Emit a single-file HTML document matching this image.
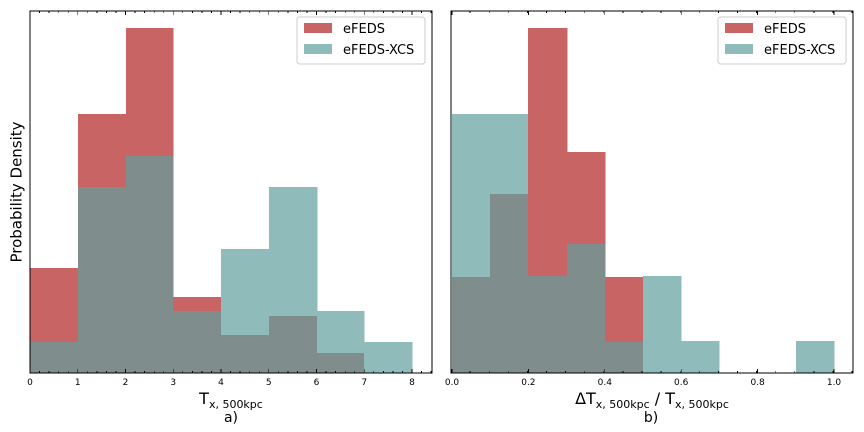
<!DOCTYPE html>
<html><head><meta charset="utf-8"><style>
html,body{margin:0;background:#fff;width:864px;height:432px;overflow:hidden;position:relative;}
svg{display:block;}
svg text{font-family:"DejaVu Sans","Liberation Sans",sans-serif;}
</style></head><body>
<svg id="chart" width="864" height="432" xmlns="http://www.w3.org/2000/svg" shape-rendering="crispEdges"></svg>
<script>
// Panel a data (T_x,500kpc), density in arbitrary units
const binsA = [0,1,2,3,4,5,6,7,8];
const efedsA = [105,259,345,76,38,57,20,0];
const xcsA = [31,186,217,62,124,186,62,31];
const ticksA = [0,1,2,3,4,5,6,7,8];
// Panel b data (dT/T)
const binsB = [0,0.1,0.2,0.3,0.4,0.5,0.6,0.7,0.8,0.9,1.0];
const efedsB = [96,179,345,221,96,0,0,0,0,0];
const xcsB = [259,259,97,129,31,97,32,0,0,32];
const ticksB = [0.0,0.2,0.4,0.6,0.8,1.0];
const ticksBLabels = ["0.0","0.2","0.4","0.6","0.8","1.0"];
const yMax = 362;

const svg = document.getElementById('chart');
const NS = 'http://www.w3.org/2000/svg';
function mk(tag, attrs, parent){const e=document.createElementNS(NS,tag);for(const k in attrs)e.setAttribute(k,attrs[k]);(parent||svg).appendChild(e);return e;}

function panel(name, L, R, xmin, xmax, bins, red, teal, ticks, labels, minorStep){
  const T=11,B=373;
  const g=mk('g',{});
  
  
  const sx=v=>L+(v-xmin)/(xmax-xmin)*(R-L);
  const sy=v=>B-v/yMax*(B-T);
  for(let i=0;i<red.length;i++){
    const x0=Math.round(sx(bins[i])),x1=Math.round(sx(bins[i+1]));
    const layers=[[red[i],'#c86464','bar-efeds'],[teal[i],'#8fbbbb','bar-efeds-xcs'],[Math.min(red[i],teal[i]),'#7f8d8d','bar-overlap']];
    for(const [v,c,n] of layers){
      if(v<=0)continue;
      const r=mk('rect',{x:x0,y:sy(v),width:x1-x0+0.5,height:B-sy(v),fill:c},g);
      
      
    }
  }
  mk('rect',{x:L,y:T,width:R-L,height:B-T,fill:'none',stroke:'#000','stroke-width':1},g);
  for(let v=xmin;v<=xmax+1e-9;v+=minorStep){
    const x=sx(v);
    mk('line',{x1:x,x2:x,y1:B,y2:B-2,stroke:'#000','stroke-width':0.8},g);
    mk('line',{x1:x,x2:x,y1:T,y2:T+2,stroke:'#000','stroke-width':0.8},g);
  }
  ticks.forEach((v,i)=>{
    const x=sx(v);
    mk('line',{x1:x,x2:x,y1:B,y2:B-4,stroke:'#000','stroke-width':0.8},g);
    mk('line',{x1:x,x2:x,y1:T,y2:T+4,stroke:'#000','stroke-width':0.8},g);
    const t=mk('text',{x:x,y:B+12,'font-size':9,'text-anchor':'middle',fill:'#000'},g);
    t.textContent=labels[i];
    
    
  });
  const lg=mk('g',{},g);
  
  
  const lx=R-135;
  mk('rect',{x:lx,y:17,width:128,height:47,rx:3,fill:'#fff',stroke:'#ccc'},lg);
  mk('rect',{x:lx+7,y:23,width:28,height:10,fill:'#c86464'},lg);
  mk('rect',{x:lx+7,y:44,width:28,height:10,fill:'#8fbbbb'},lg);
  const t1=mk('text',{x:lx+46,y:33,'font-size':13},lg);t1.textContent='eFEDS';
  
  
  const t2=mk('text',{x:lx+46,y:54,'font-size':13},lg);t2.textContent='eFEDS-XCS';
  
  
}
panel('panel-a',30,432,0,(432-30)/47.75,binsA,efedsA,xcsA,ticksA,ticksA.map(String),0.2);
panel('panel-b',451,853,-0.0026,1.0497,binsB,efedsB,xcsB,ticksB,ticksBLabels,0.05);
</script>
<div style="position:absolute;left:0;top:0;width:864px;height:432px;pointer-events:none;font-family:'DejaVu Sans','Liberation Sans',sans-serif;line-height:1;">
  <div style="position:absolute;left:17px;top:192px;transform:translate(-50%,-50%) rotate(-90deg);font-size:15px;white-space:nowrap;">Probability Density</div>
  <div style="position:absolute;left:231px;top:391px;transform:translateX(-50%);font-size:16px;white-space:nowrap;">T<span style="font-size:11px;position:relative;top:4px;">x, 500kpc</span></div>
  <div style="position:absolute;left:231px;top:411px;transform:translateX(-50%);font-size:14px;">a)</div>
  <div style="position:absolute;left:652px;top:391px;transform:translateX(-50%);font-size:16px;white-space:nowrap;">ΔT<span style="font-size:11px;position:relative;top:4px;">x, 500kpc</span> / T<span style="font-size:11px;position:relative;top:4px;">x, 500kpc</span></div>
  <div style="position:absolute;left:651px;top:411px;transform:translateX(-50%);font-size:14px;">b)</div>
</div>
</body></html>
